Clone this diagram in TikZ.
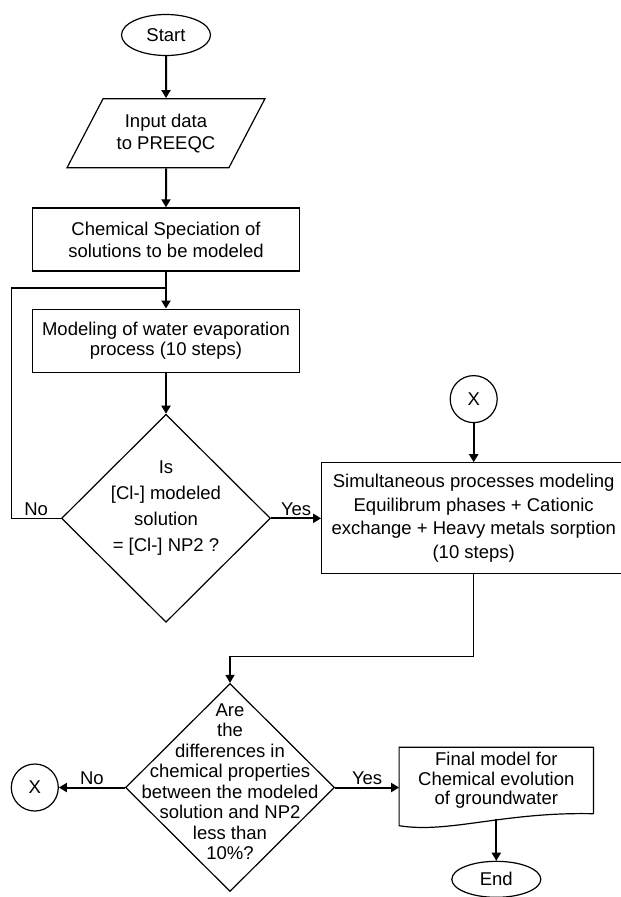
\documentclass[tikz,border=0pt]{standalone}
\usepackage{fontspec}
\setmainfont{Liberation Sans}
\usetikzlibrary{shapes.geometric, arrows.meta, positioning, calc}

\begin{document}
\begin{tikzpicture}[
    font=\fontsize{18.5}{22}\selectfont,
    node distance=39pt,
    terminal/.style={ellipse, draw, line width=1.2pt, minimum width=89pt, minimum height=41pt, inner sep=0pt},
    io/.style={trapezium, trapezium left angle=54, trapezium right angle=126, trapezium stretches=true, draw, line width=1.2pt, minimum width=198pt, minimum height=69pt, align=center, inner sep=0pt},
    block/.style={rectangle, draw, line width=1.2pt, minimum width=267pt, minimum height=63pt, align=center, inner sep=2pt},
    decision/.style={diamond, draw, line width=1.2pt, minimum width=209pt, minimum height=208pt, inner sep=0pt},
    dtext/.style={align=center, inner sep=0pt},
    docbox/.style={rectangle, minimum width=194pt, minimum height=66pt, align=center, inner sep=0pt, font=\fontsize{18.5}{19.5}\selectfont},
    connector/.style={circle, draw, line width=1.2pt, minimum size=47pt, inner sep=0pt},
    lbl/.style={above=2pt, inner sep=0pt},
    arrow/.style={-{Triangle[length=8pt,width=9pt]}, line width=2pt},
    link/.style={line width=1.5pt}
]
    \useasboundingbox (0,0) rectangle (621pt,-897pt);

    % main column
    \node[terminal] (start) at (166pt,-35pt) {Start};
    \node[io, below=42pt of start] (input) {Input data\\to PREEQC};
    \node[block, below=of input] (chem) {Chemical Speciation of\\solutions to be modeled};
    \node[block, below=37pt of chem, font=\fontsize{18.5}{20}\selectfont] (mod) {Modeling of water evaporation\\process (10 steps)};
    \node[decision, below=41pt of mod] (dia1) {};
    \node[dtext, font=\fontsize{18.5}{26}\selectfont] (dia1txt) at ($(dia1)+(0,10pt)$) {Is\\{}[Cl-] modeled\\solution\\= [Cl-] NP2 ?};

    % right branch
    \node[block, right=50pt of dia1, minimum width=304pt, minimum height=111pt, font=\fontsize{18.5}{23.5}\selectfont] (sim) {Simultaneous processes modeling\\Equilibrum phases + Cationic\\exchange + Heavy metals sorption\\(10 steps)};
    \node[connector, above=39pt of sim] (xsrc) {X};

    % second decision
    \node[decision, below=60pt of dia1, xshift=64pt] (dia2) {};
    \node[dtext, font=\fontsize{18.5}{20.5}\selectfont] (dia2txt) at ($(dia2)+(0,6pt)$) {Are\\the\\differences in\\chemical properties\\between the modeled\\solution and NP2\\less than\\10\%?};
    \node[connector, left=66pt of dia2] (xdst) {X};
    \node[docbox, right=64pt of dia2, yshift=7pt] (final) {Final model for\\Chemical evolution\\of groundwater};
    \draw[line width=1.2pt] (final.south east) -- (final.north east) -- (final.north west) -- ($(final.south west)+(0,-12pt)$)
        .. controls ($(final.south west)+(50pt,-20pt)$) and ($(final.south east)+(-90pt,2pt)$) .. (final.south east);
    \node[terminal, below=47pt of final, minimum height=36pt] (end) {End};

    \draw[arrow] (start) -- (input);
    \draw[arrow] (input) -- (chem);
    \draw[arrow] (chem) -- (mod);
    \draw[arrow] (mod) -- (dia1);
    \coordinate (join) at ($(chem.south)!0.45!(mod.north)$);
    \draw[link] (dia1.west) -- ++(-49.5pt,0) node[lbl, midway] (no1) {No} |- (join);
    \draw[arrow] (dia1.east) -- (sim.west) node[lbl, midway] (yes1) {Yes};
    \draw[arrow] (xsrc) -- (sim);
    \draw[arrow, line width=1.5pt] (sim.south) -- ++(0,-82pt) -| (dia2.north);
    \draw[arrow] (dia2.west) -- (xdst) node[lbl, midway] (no2) {No};
    \draw[arrow] (dia2.east) -- (dia2.east -| final.west) node[lbl, midway] (yes2) {Yes};
    \draw[arrow] ($(final.south)+(0,-5pt)$) -- (end);
\end{tikzpicture}
\end{document}
